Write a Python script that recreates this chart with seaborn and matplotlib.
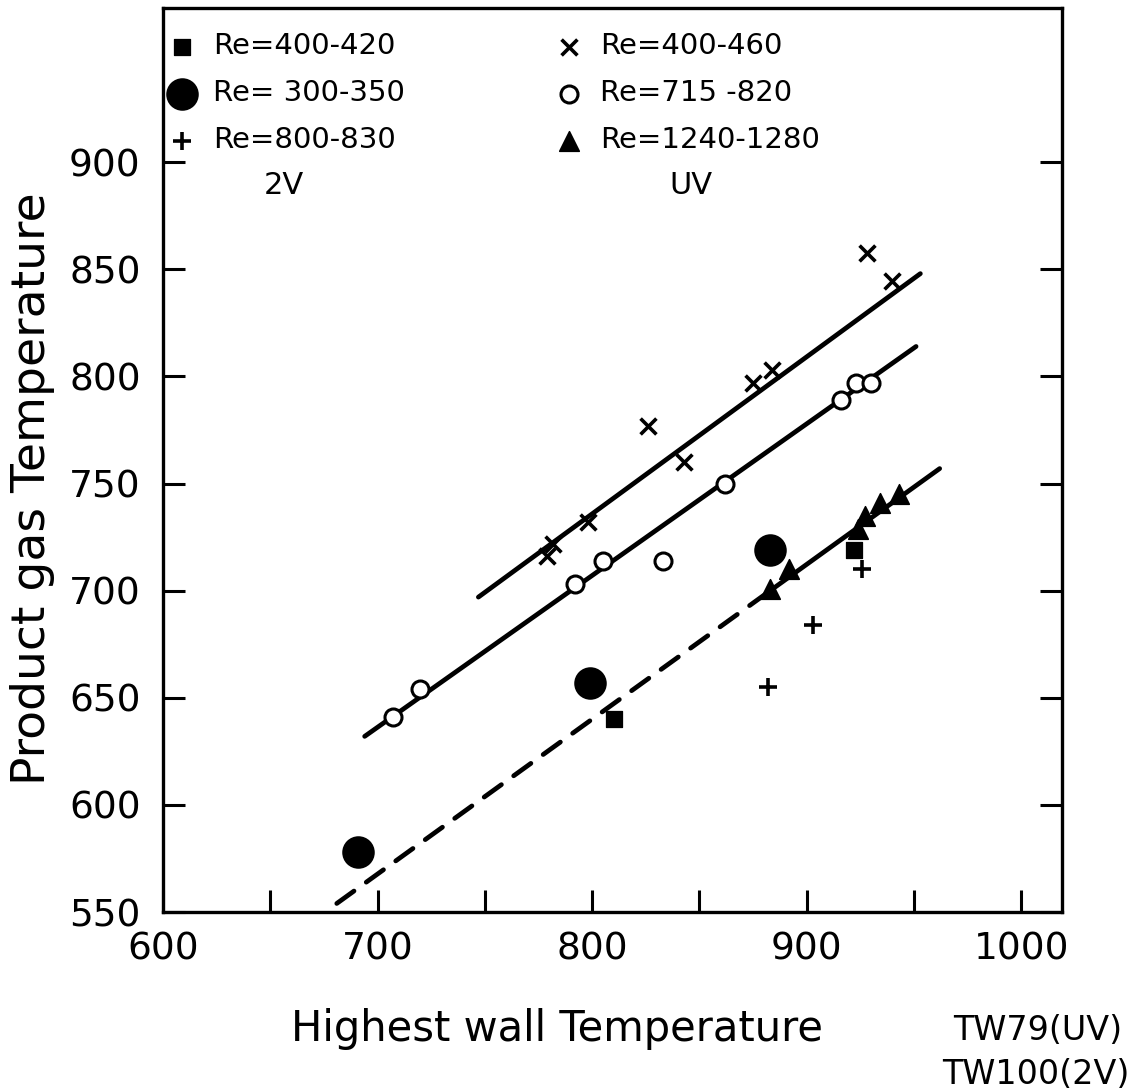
import matplotlib
matplotlib.use("Agg")
import matplotlib.pyplot as plt
import seaborn as sns
import numpy as np

# ---- data ----
sq_x = [810, 922]
sq_y = [640, 719]
dot_x = [691, 799, 883]
dot_y = [578, 657, 719]
plus_x = [882, 903, 926]
plus_y = [655, 684, 710]
x_x = [779, 782, 798, 826, 843, 875, 884, 928, 940]
x_y = [716, 722, 732, 777, 760, 797, 803, 857.5, 844.5]
o_x = [707, 720, 792, 805, 833, 862, 916, 923, 930]
o_y = [641, 654, 703, 714, 714, 750, 789, 797, 797]
tri_x = [883, 892, 924, 927, 934, 943]
tri_y = [701, 710, 729, 735, 741, 745]

line_x_x = [747, 953]
line_x_y = [697, 848]
line_o_x = [694, 951]
line_o_y = [632, 814]
line_t_x = [883, 962]
line_t_y = [700, 757]
line_d_x = [681, 883]
line_d_y = [554, 700]

labels = ["Re=400-420", "Re= 300-350", "Re=800-830",
          "Re=400-460", "Re=715 -820", "Re=1240-1280"]
x_ticks = [600, 650, 700, 750, 800, 850, 900, 950, 1000]
x_ticklabels = ["600", "", "700", "", "800", "", "900", "", "1000"]
y_ticks = [550, 600, 650, 700, 750, 800, 850, 900]

sns.set_theme(style="ticks")
plt.rcParams['font.family'] = ['DejaVu Sans']
plt.rcParams['text.color'] = 'black'

fig = plt.figure(figsize=(11.38, 10.92), dpi=100)
ax = fig.add_axes([0.1432, 0.1648, 0.7900, 0.8279])

lw = 3.4
sns.lineplot(x=line_x_x, y=line_x_y, ax=ax, color='black', lw=lw, solid_capstyle='round')
sns.lineplot(x=line_o_x, y=line_o_y, ax=ax, color='black', lw=lw, solid_capstyle='round')
sns.lineplot(x=line_t_x, y=line_t_y, ax=ax, color='black', lw=lw, solid_capstyle='round')
sns.lineplot(x=line_d_x, y=line_d_y, ax=ax, color='black', lw=lw)
ax.lines[-1].set_dashes([4.5, 3.2])
ax.lines[-1].set_dash_capstyle('round')

sns.scatterplot(x=sq_x, y=sq_y, ax=ax, marker='s', s=130, color='black',
                edgecolor='black', label=labels[0], zorder=5)
sns.scatterplot(x=dot_x, y=dot_y, ax=ax, marker='o', s=470, color='black',
                edgecolor='black', label=labels[1], zorder=5)
sns.scatterplot(x=plus_x, y=plus_y, ax=ax, marker='+', s=150, color='black',
                linewidth=2.6, label=labels[2], zorder=5)
sns.scatterplot(x=x_x, y=x_y, ax=ax, marker='x', s=130, color='black',
                linewidth=2.6, label=labels[3], zorder=5)
sns.scatterplot(x=o_x, y=o_y, ax=ax, marker='o', s=150, facecolor='white',
                edgecolor='black', linewidth=2.2, label=labels[4], zorder=5)
sns.scatterplot(x=tri_x, y=tri_y, ax=ax, marker='^', s=200, color='black',
                edgecolor='black', label=labels[5], zorder=5)

ax.set_xlim(600, 1019)
ax.set_ylim(550, 972)
ax.set_xticks(x_ticks)
ax.set_xticklabels(x_ticklabels)
ax.set_yticks(y_ticks)
ax.set_yticklabels([str(v) for v in y_ticks])
ax.tick_params(axis='both', which='major', direction='in', length=16, width=2.2,
               color='black', labelsize=27, labelcolor='black')
ax.tick_params(axis='x', pad=14, bottom=True, top=False)
ax.tick_params(axis='y', pad=16, right=True, left=True)
for sp in ax.spines.values():
    sp.set_visible(True)
    sp.set_linewidth(2.4)
    sp.set_color('black')

ax.set_xlabel("Highest wall Temperature", fontsize=30, color='black')
ax.xaxis.set_label_coords(0.438, -0.106)
ax.set_ylabel("Product gas Temperature", fontsize=34, color='black')
ax.yaxis.set_label_coords(-0.12, 0.468)

fig.text(1122 / 1138, 1 - 1030 / 1092, "TW79(UV)", fontsize=24, ha='right', va='center')
fig.text(1130 / 1138, 1 - 1075 / 1092, "TW100(2V)", fontsize=24, ha='right', va='center')

leg = ax.legend(ncol=2, loc='upper left', bbox_to_anchor=(0.005, 0.973),
                frameon=False, fontsize=21, handlelength=1.0, handletextpad=0.55,
                columnspacing=5.15, labelspacing=0.65, borderpad=0, borderaxespad=0)
for t in leg.get_texts():
    t.set_color('black')

ax.text(0.134, 0.804, "2V", transform=ax.transAxes, fontsize=22, ha='center', va='center')
ax.text(0.587, 0.804, "UV", transform=ax.transAxes, fontsize=22, ha='center', va='center')

fig.savefig("out.png", dpi=100)
